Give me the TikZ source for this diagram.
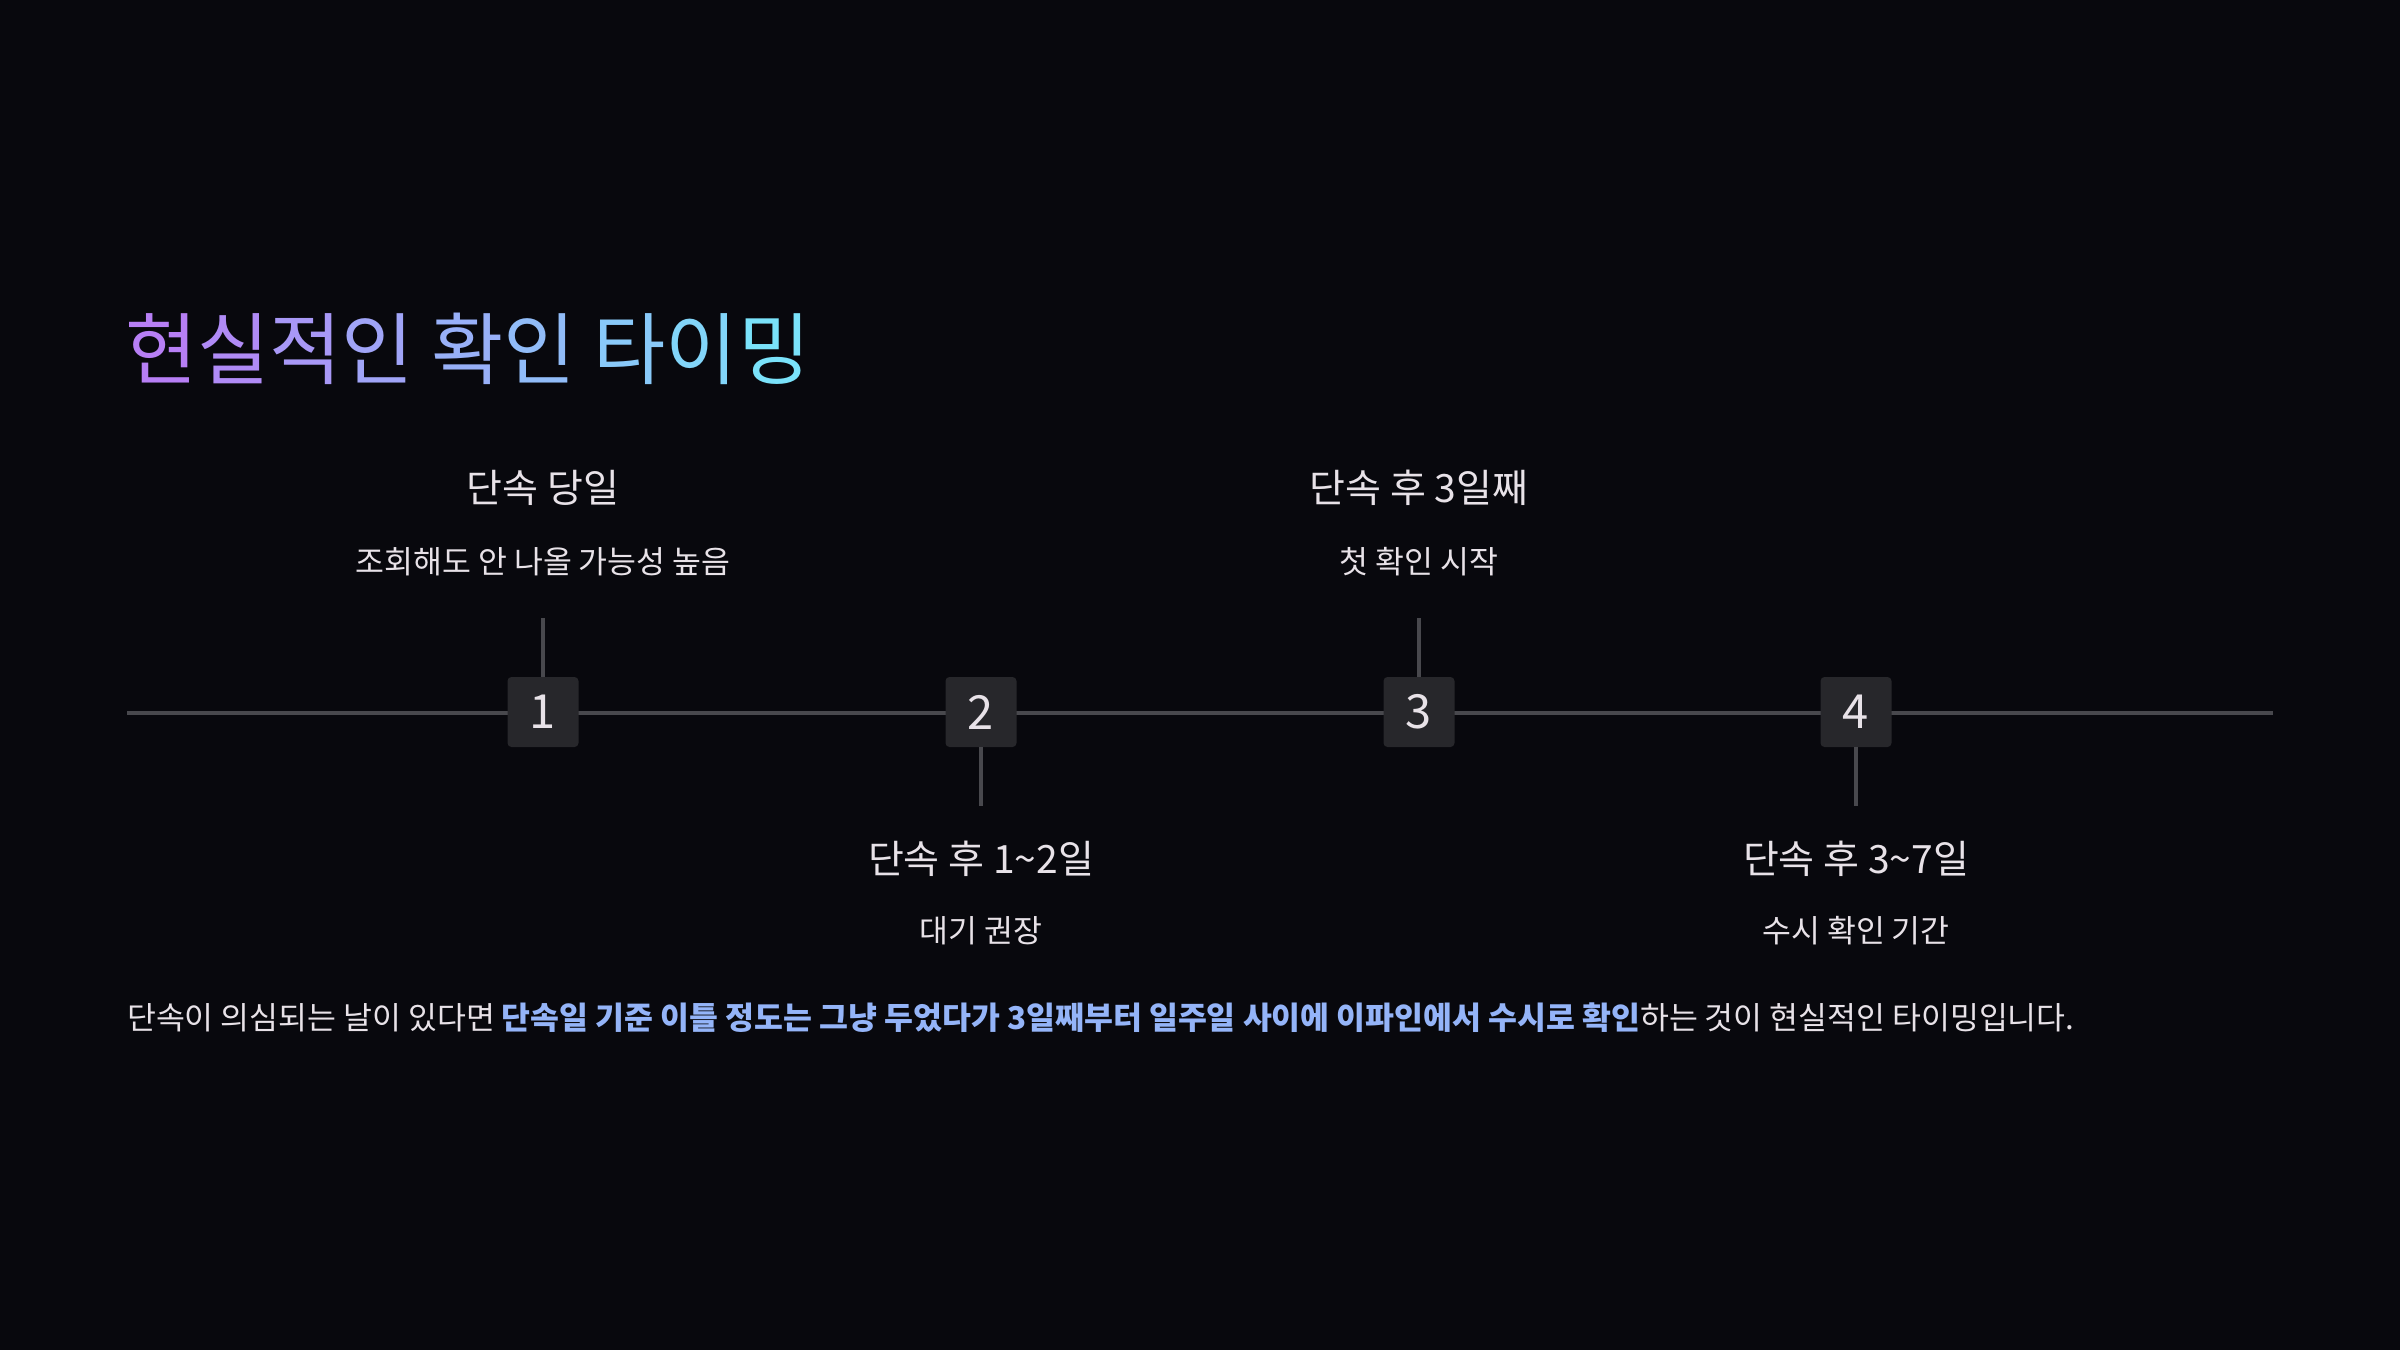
\documentclass[tikz,border=0pt]{standalone}
\usepackage{fontspec}
\setmainfont{Noto Sans CJK KR}
\definecolor{bgc}{HTML}{08080D}
\definecolor{txt}{HTML}{E8E2E8}
\definecolor{boxc}{HTML}{27272B}
\definecolor{linec}{HTML}{48484D}
\definecolor{hl}{HTML}{94B4F8}
\definecolor{tA}{HTML}{B77FF5}
\definecolor{tB}{HTML}{7AE2FA}
\tikzset{
  tl/.style={draw=linec, line width=3.5pt},
  numbox/.style={fill=boxc, rounded corners=4pt, minimum width=71, minimum height=70, inner sep=0pt, text=txt, font=\fontsize{47}{47}\selectfont},
  headlbl/.style={inner sep=0pt, text=txt, font=\fontsize{39}{44}\selectfont},
  sublbl/.style={inner sep=0pt, text=txt, font=\fontsize{31.4}{36}\selectfont}
}
\begin{document}
\begin{tikzpicture}[x=1pt,y=-1pt]
\fill[bgc] (0,0) rectangle (2400,1350);
\useasboundingbox (0,0) rectangle (2400,1350);
% title
\node[anchor=west, inner sep=0pt, font=\fontsize{78.5}{86}\selectfont] (title) at (125,349)
 {\textcolor{tA!100!tB}{현}\textcolor{tA!88!tB}{실}\textcolor{tA!75!tB}{적}\textcolor{tA!63!tB}{인} \textcolor{tA!50!tB}{확}\textcolor{tA!38!tB}{인} \textcolor{tA!25!tB}{타}\textcolor{tA!13!tB}{이}\textcolor{tA!0!tB}{밍}};
% timeline
\coordinate (ls) at (127,713);
\coordinate (le) at (2273,713);
\draw[tl] (ls) -- (le);
\node[numbox] (b1) at (543,712) {1};
\node[numbox] (b2) at (981,712) {2};
\node[numbox] (b3) at (1419,712) {3};
\node[numbox] (b4) at (1856,712) {4};
% ticks
\coordinate (t1) at (543,618);
\coordinate (t2) at (981,806);
\coordinate (t3) at (1419,618);
\coordinate (t4) at (1856,806);
\draw[tl] (t1) -- (b1.north);
\draw[tl] (t3) -- (b3.north);
\draw[tl] (b2.south) -- (t2);
\draw[tl] (b4.south) -- (t4);
% labels
\node[headlbl] (h1) at (543,488) {단속 당일};
\node[sublbl] (s1) at (543,562) {조회해도 안 나올 가능성 높음};
\node[headlbl] (h3) at (1419,488) {단속 후 3일째};
\node[sublbl] (s3) at (1419,562) {첫 확인 시작};
\node[headlbl] (h2) at (981,859) {단속 후 1\textasciitilde 2일};
\node[sublbl] (s2) at (981,931) {대기 권장};
\node[headlbl] (h4) at (1856,859) {단속 후 3\textasciitilde 7일};
\node[sublbl] (s4) at (1856,931) {수시 확인 기간};
% paragraph
\node[anchor=west, inner sep=0pt, text=txt, font=\fontsize{31.4}{36}\selectfont] (para) at (127,1018)
 {단속이 의심되는 날이 있다면 \textcolor{hl}{\bfseries 단속일 기준 이틀 정도는 그냥 두었다가 3일째부터 일주일 사이에 이파인에서 수시로 확인}하는 것이 현실적인 타이밍입니다.};
\end{tikzpicture}
\end{document}
